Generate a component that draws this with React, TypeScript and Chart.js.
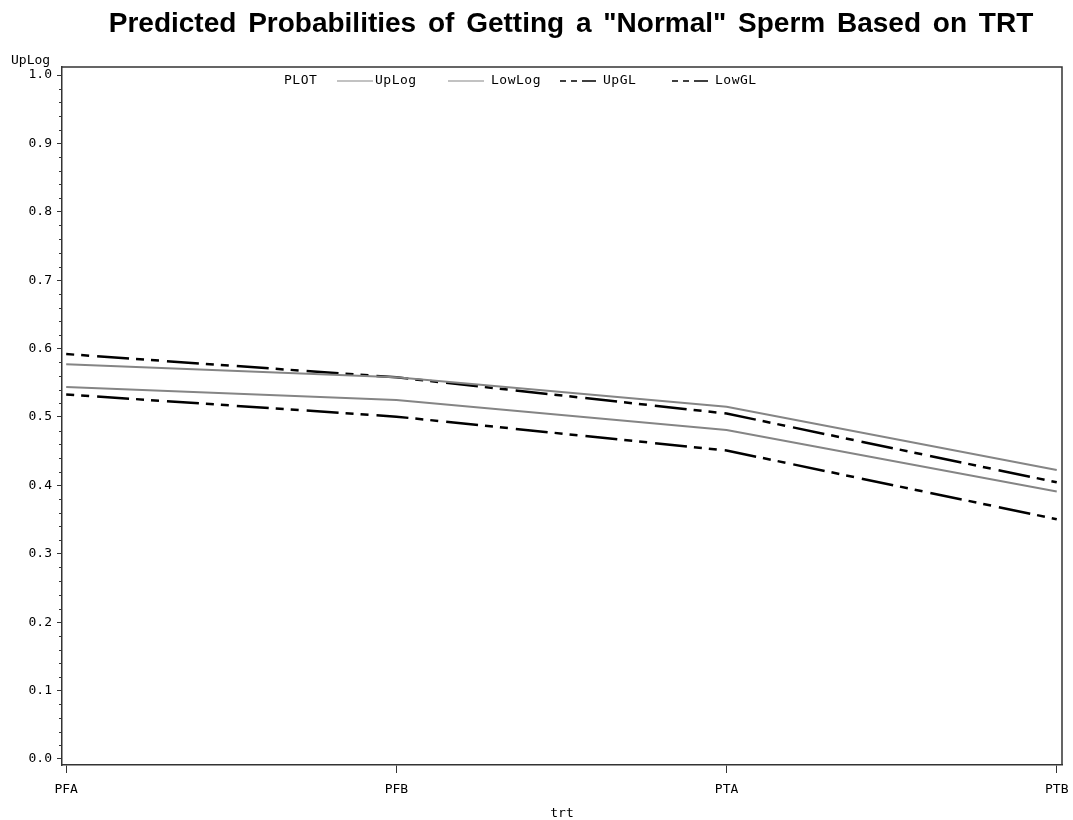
import React, { useEffect, useRef } from 'react';
import { Chart, registerables } from 'chart.js';

Chart.register(...registerables);

const chartTitle = 'Predicted Probabilities of Getting a "Normal" Sperm Based on TRT';
const categories = ['PFA', 'PFB', 'PTA', 'PTB'];
const seriesLabels = ['UpLog', 'LowLog', 'UpGL', 'LowGL'];
const upLog = [0.577, 0.558, 0.515, 0.4225];
const lowLog = [0.544, 0.525, 0.481, 0.391];
const upGL = [0.592, 0.558, 0.505, 0.4045];
const lowGL = [0.533, 0.5005, 0.451, 0.3505];
const yTicks = [0, 0.1, 0.2, 0.3, 0.4, 0.5, 0.6, 0.7, 0.8, 0.9, 1.0];
const yMinorStep = 0.02;
const xTitle = 'trt';
const yTitle = 'UpLog';
const legendTitle = 'PLOT';

const MONO = "'DejaVu Sans Mono', 'Liberation Mono', monospace";
const GRAY = '#858585';
const DASH = [8, 7, 8, 8, 32, 7];

const toPoints = (vals: number[]) => vals.map((v, i) => ({ x: i, y: v }));

const overlayPlugin = {
  id: 'sasOverlay',
  afterDraw(chart: any) {
    const ctx = chart.ctx as CanvasRenderingContext2D;
    const { left, right, top, bottom } = chart.chartArea;
    const yScale = chart.scales.y;
    ctx.save();
    // title
    ctx.fillStyle = '#000';
    ctx.font = "bold 28px 'Liberation Sans', Arial, sans-serif";
    (ctx as any).wordSpacing = '4px';
    ctx.textAlign = 'center';
    ctx.textBaseline = 'alphabetic';
    ctx.fillText(chartTitle, 571, 32);
    (ctx as any).wordSpacing = '0px';
    // frame (top & right)
    ctx.strokeStyle = '#333';
    ctx.lineWidth = 1.5;
    ctx.beginPath();
    ctx.moveTo(left, top);
    ctx.lineTo(right, top);
    ctx.lineTo(right, bottom);
    ctx.stroke();
    // minor ticks
    ctx.lineWidth = 1;
    ctx.beginPath();
    for (let v = 0; v <= 1.0001; v += yMinorStep) {
      const r = Math.round(v * 100) / 100;
      if (Math.abs(r * 10 - Math.round(r * 10)) < 1e-6) continue;
      const py = Math.round(yScale.getPixelForValue(r)) + 0.5;
      ctx.moveTo(left - 3, py);
      ctx.lineTo(left, py);
    }
    ctx.stroke();
    // y title
    ctx.fillStyle = '#000';
    ctx.font = `13px ${MONO}`;
    ctx.textAlign = 'left';
    ctx.textBaseline = 'middle';
    ctx.fillText(yTitle, 11, 61);
    // legend
    const ly = 81;
    ctx.font = `13px ${MONO}`;
    (ctx as any).letterSpacing = '0.5px';
    ctx.fillText(legendTitle, 284, ly);
    const sampleX = [337, 448, 560, 672];
    const textX = [375, 491, 603, 715];
    chart.data.datasets.forEach((ds: any, i: number) => {
      ctx.save();
      ctx.strokeStyle = ds.borderColor;
      ctx.lineWidth = ds.borderDash && ds.borderDash.length ? 1.5 : 1.2;
      if (ds.borderDash && ds.borderDash.length) {
        ctx.setLineDash([6, 5, 6, 5, 40, 1]);
      }
      ctx.beginPath();
      ctx.moveTo(sampleX[i], ly);
      ctx.lineTo(sampleX[i] + 36, ly);
      ctx.stroke();
      ctx.restore();
      ctx.fillStyle = '#000';
      ctx.fillText(ds.label, textX[i], ly);
    });
    ctx.restore();
  },
};

export default function App() {
  const ref = useRef<HTMLCanvasElement | null>(null);
  useEffect(() => {
    if (!ref.current) return;
    const chart = new Chart(ref.current, {
      type: 'line',
      data: {
        datasets: [
          { label: seriesLabels[0], data: toPoints(upLog), borderColor: GRAY, borderWidth: 2, pointRadius: 0, tension: 0 },
          { label: seriesLabels[1], data: toPoints(lowLog), borderColor: GRAY, borderWidth: 2, pointRadius: 0, tension: 0 },
          { label: seriesLabels[2], data: toPoints(upGL), borderColor: '#000', borderWidth: 2.5, borderDash: DASH, pointRadius: 0, tension: 0 },
          { label: seriesLabels[3], data: toPoints(lowGL), borderColor: '#000', borderWidth: 2.5, borderDash: DASH, pointRadius: 0, tension: 0 },
        ],
      },
      options: {
        animation: false,
        responsive: false,
        maintainAspectRatio: false,
        layout: { padding: { top: 67, right: 11, bottom: 0, left: 0 } },
        plugins: {
          legend: { display: false },
          tooltip: { enabled: false },
          title: { display: false },
        },
        scales: {
          x: {
            type: 'linear',
            min: -0.0127,
            max: 3.0159,
            afterBuildTicks: (scale: any) => {
              scale.ticks = categories.map((_, i) => ({ value: i }));
            },
            afterFit: (scale: any) => {
              scale.height = 55;
              scale.paddingLeft = 0;
              scale.paddingRight = 0;
            },
            ticks: {
              autoSkip: false,
              maxRotation: 0,
              color: '#000',
              padding: 9,
              font: { family: MONO, size: 13 },
              callback: (v: any) => categories[v] ?? '',
            },
            grid: { drawOnChartArea: false, drawTicks: true, tickLength: 8, color: '#333', lineWidth: 1 },
            border: { display: true, color: '#333', width: 1.5 },
            title: {
              display: true,
              text: xTitle,
              color: '#000',
              font: { family: MONO, size: 13, lineHeight: 1 },
              padding: { top: 0, bottom: 0 },
            },
          },
          y: {
            type: 'linear',
            min: -0.0088,
            max: 1.0117,
            afterBuildTicks: (scale: any) => {
              scale.ticks = yTicks.map((v) => ({ value: v }));
            },
            afterFit: (scale: any) => {
              scale.width = 62;
              scale.paddingTop = 0;
              scale.paddingBottom = 0;
            },
            ticks: {
              autoSkip: false,
              color: '#000',
              padding: 5,
              font: { family: MONO, size: 13 },
              callback: (v: any) => Number(v).toFixed(1),
            },
            grid: { drawOnChartArea: false, drawTicks: true, tickLength: 5, color: '#333', lineWidth: 1 },
            border: { display: true, color: '#333', width: 1.5 },
          },
        },
      },
      plugins: [overlayPlugin],
    } as any);
    return () => chart.destroy();
  }, []);
  return (
    <div style={{ position: 'absolute', left: 0, top: 0, width: 1073, height: 820, background: '#fff' }}>
      <canvas ref={ref} width={1073} height={820} style={{ display: 'block', width: 1073, height: 820 }} />
    </div>
  );
}
